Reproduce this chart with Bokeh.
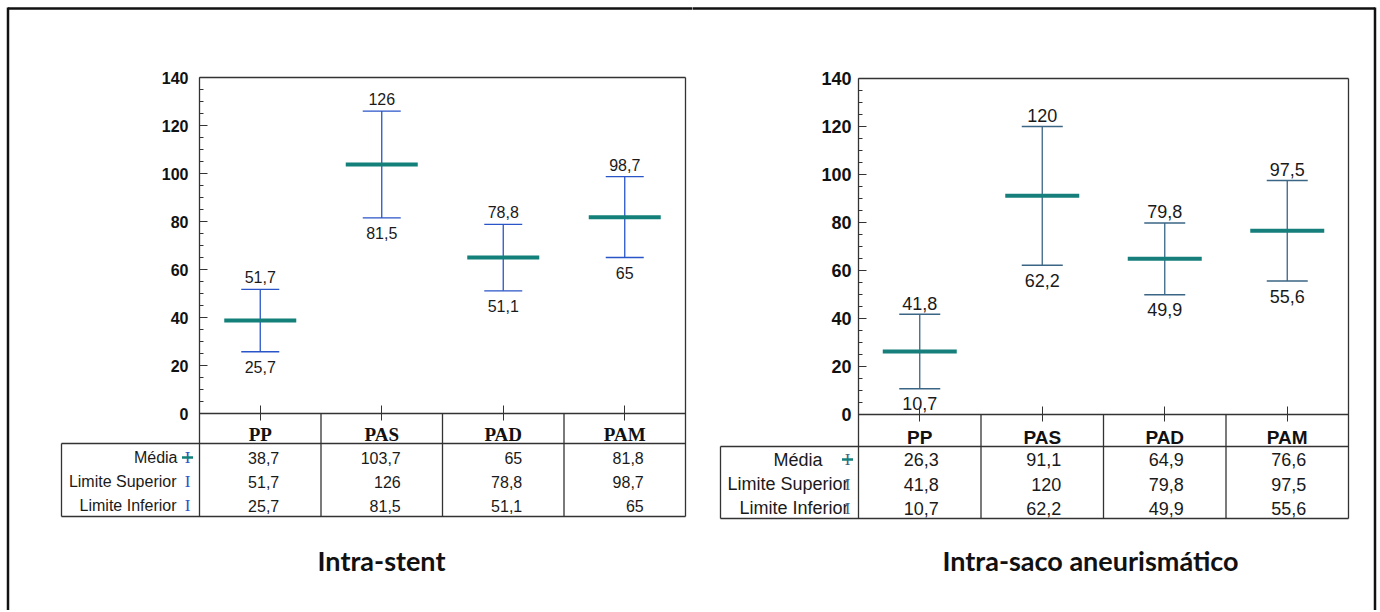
from bokeh.plotting import figure
from bokeh.layouts import row
from bokeh.models import Range1d, LinearAxis, FixedTicker, ColumnDataSource
from bokeh.core.properties import value
from bokeh.embed import file_html
from bokeh.resources import INLINE

# ---------------- data ----------------
categories = ["PP", "PAS", "PAD", "PAM"]
row_labels = ["Média", "Limite Superior", "Limite Inferior"]
y_ticks = [0, 20, 40, 60, 80, 100, 120, 140]

stent_mean = [38.7, 103.7, 65, 81.8]
stent_upper = [51.7, 126, 78.8, 98.7]
stent_lower = [25.7, 81.5, 51.1, 65]

saco_mean = [26.3, 91.1, 64.9, 76.6]
saco_upper = [41.8, 120, 79.8, 97.5]
saco_lower = [10.7, 62.2, 49.9, 55.6]

titles = ["Intra-stent", "Intra-saco aneurismático"]


def fmt(v):
    return str(int(v)) if float(v).is_integer() else f"{v:.1f}".replace(".", ",")


# ---------------- layout specs (page pixels) ----------------
PAGE_TOP, PAGE_BOTTOM = 0, 610
BORDER = dict(left=7.5, top=8, right=1374.5, color="#111111", width=2.5)

LEFT = dict(canvas_x=(0, 692), frame_x=(199, 685), zero=413, top=77,
            label_left=61, table_top=443, table_bottom=516,
            rows=(457, 481, 505), title=(381, 560),
            bar_color="#2a55c8", mean_color="#13807a",
            tick_font_size="16px", ystandoff=11,
            head_font="Liberation Serif", head_size="19px", head_standoff=3,
            val_size="16px", lab_size="16px", cap=38, mean_w=72,
            up_off=-12, low_off=15, val_off=19,
            lab_offsets=(-22, -23, -23), icon_off=-12, icon_color="#2a55c8",
            border_sides=("left", "top"))

RIGHT = dict(canvas_x=(692, 1378), frame_x=(858, 1348), zero=414, top=78,
             label_left=720, table_top=446, table_bottom=518,
             rows=(459, 483.5, 507.5), title=(1090, 560),
             bar_color="#3a6585", mean_color="#177f7b",
             tick_font_size="18px", ystandoff=7,
             head_font="Liberation Sans", head_size="19px", head_standoff=5,
             val_size="18px", lab_size="18px", cap=41, mean_w=74,
             up_off=-11, low_off=15, val_off=19,
             lab_offsets=(-36, -10, -10), icon_off=-11, icon_color="#3a6585",
             border_sides=("top", "right"))


def make_panel(spec, mean, upper, lower, title):
    cx0, cx1 = spec["canvas_x"]
    fx0, fx1 = spec["frame_x"]
    ux = (fx1 - fx0) / 4.0
    uy = (spec["zero"] - spec["top"]) / 140.0

    def X(px):
        return -0.5 + (px - fx0) / ux

    def Y(py):
        return (spec["zero"] - py) / uy

    p = figure(width=cx1 - cx0, height=PAGE_BOTTOM - PAGE_TOP,
               x_range=Range1d(X(cx0), X(cx1)), y_range=Range1d(Y(PAGE_BOTTOM), Y(PAGE_TOP)),
               x_axis_location=None, y_axis_location=None,
               toolbar_location=None, tools="", output_backend="svg",
               min_border=0, outline_line_color=None,
               background_fill_color="white", border_fill_color="white")
    p.xgrid.visible = False
    p.ygrid.visible = False

    line_col = "#333333"
    t_top, t_bot = Y(spec["table_top"]), Y(spec["table_bottom"])
    lx = X(spec["label_left"])

    # outer page border
    bx0, bx1 = [], []
    by0, by1 = [], []
    if "left" in spec["border_sides"]:
        bx0.append(X(BORDER["left"])); bx1.append(X(BORDER["left"]))
        by0.append(Y(BORDER["top"] - 1)); by1.append(Y(PAGE_BOTTOM + 5))
    if "right" in spec["border_sides"]:
        bx0.append(X(BORDER["right"])); bx1.append(X(BORDER["right"]))
        by0.append(Y(BORDER["top"] - 1)); by1.append(Y(PAGE_BOTTOM + 5))
    if "top" in spec["border_sides"]:
        left_end = BORDER["left"] if "left" in spec["border_sides"] else cx0 - 5
        right_end = BORDER["right"] if "right" in spec["border_sides"] else cx1 + 5
        bx0.append(X(left_end)); bx1.append(X(right_end))
        by0.append(Y(BORDER["top"])); by1.append(Y(BORDER["top"]))
    p.segment(x0=bx0, y0=by0, x1=bx1, y1=by1, line_color=BORDER["color"],
              line_width=BORDER["width"])

    # y axis (fixed on the chart's left edge)
    minor = [v for v in range(5, 140, 5) if v % 20]
    yax = LinearAxis(fixed_location=-0.5, bounds=(t_bot, 140),
                     ticker=FixedTicker(ticks=y_ticks, minor_ticks=minor),
                     major_tick_in=8, major_tick_out=0, minor_tick_in=4, minor_tick_out=0,
                     major_label_standoff=spec["ystandoff"],
                     axis_line_color=line_col, axis_line_width=1.3,
                     major_tick_line_color=line_col, minor_tick_line_color=line_col,
                     major_label_text_font="Liberation Sans",
                     major_label_text_font_style="bold",
                     major_label_text_font_size=spec["tick_font_size"],
                     major_label_text_color="#111111")
    p.add_layout(yax, "left")

    # x axis (category header)
    xax = LinearAxis(fixed_location=0, bounds=(-0.5, 3.5),
                     ticker=FixedTicker(ticks=[0, 1, 2, 3], minor_ticks=[]),
                     major_label_overrides={i: c for i, c in enumerate(categories)},
                     major_tick_in=8, major_tick_out=7, minor_tick_in=0, minor_tick_out=0,
                     major_label_standoff=spec["head_standoff"],
                     axis_line_color=line_col, axis_line_width=1.3,
                     major_tick_line_color=line_col,
                     major_label_text_font=spec["head_font"],
                     major_label_text_font_style="bold",
                     major_label_text_font_size=spec["head_size"],
                     major_label_text_color="#111111")
    p.add_layout(xax, "below")

    # frame + table lines
    p.segment(x0=[-0.5, 3.5, lx, lx, lx, 0.5, 1.5, 2.5],
              y0=[140, 140, t_top, t_bot, t_top, 0, 0, 0],
              x1=[3.5, 3.5, 3.5, 3.5, lx, 0.5, 1.5, 2.5],
              y1=[140, t_bot, t_top, t_bot, t_bot, t_bot, t_bot, t_bot],
              line_color=line_col, line_width=1.3)

    xs = list(range(len(categories)))
    src = ColumnDataSource(dict(x=xs, mean=mean, upper=upper, lower=lower,
                                ulab=[fmt(v) for v in upper], llab=[fmt(v) for v in lower]))

    p.segment(x0="x", y0="lower", x1="x", y1="upper", source=src,
              line_color=spec["bar_color"], line_width=1.3)
    p.scatter(x="x", y="upper", marker="dash", size=spec["cap"], source=src,
              line_color=spec["bar_color"], line_width=1.4)
    p.scatter(x="x", y="lower", marker="dash", size=spec["cap"], source=src,
              line_color=spec["bar_color"], line_width=1.4)
    p.scatter(x="x", y="mean", marker="dash", size=spec["mean_w"], source=src,
              line_color=spec["mean_color"], line_width=4)

    txt = dict(text_font=value("Liberation Sans"), text_color="#1a1a1a",
               text_align="center", text_baseline="middle")
    p.text(x="x", y="upper", text="ulab", source=src, y_offset=spec["up_off"],
           text_font_size=spec["val_size"], **txt)
    p.text(x="x", y="lower", text="llab", source=src, y_offset=spec["low_off"],
           text_font_size=spec["val_size"], **txt)

    # table values
    row_ys = [Y(v) for v in spec["rows"]]
    tx, ty, tt = [], [], []
    for r, arr in enumerate((mean, upper, lower)):
        for i, v in enumerate(arr):
            tx.append(i)
            ty.append(row_ys[r])
            tt.append(fmt(v))
    p.text(x=tx, y=ty, text=tt, x_offset=spec["val_off"],
           text_font=value("Liberation Sans"), text_font_size=spec["val_size"],
           text_color="#1a1a1a", text_align="right", text_baseline="middle")

    # row labels + legend icons
    p.text(x=[-0.5] * 3, y=row_ys, text=row_labels, x_offset=list(spec["lab_offsets"]),
           text_font=value("Liberation Sans"), text_font_size=spec["lab_size"],
           text_color="#1a1a1a", text_align="right", text_baseline="middle")
    p.text(x=[-0.5] * 3, y=row_ys, text=["I"] * 3, x_offset=spec["icon_off"],
           text_font=value("Liberation Serif"), text_font_size="17px",
           text_color=spec["icon_color"], text_align="center", text_baseline="middle")
    icon_x = -0.5 + spec["icon_off"] / ux
    p.scatter(x=[icon_x], y=[row_ys[0]], marker="dash", size=11,
              line_color=spec["mean_color"], line_width=2.5)

    # title under the table
    p.text(x=[X(spec["title"][0])], y=[Y(spec["title"][1])], text=[title],
           text_font=value("Lato"), text_font_style="bold", text_font_size="27px",
           text_color="#111111", text_align="center", text_baseline="middle")
    return p


pL = make_panel(LEFT, stent_mean, stent_upper, stent_lower, titles[0])
pR = make_panel(RIGHT, saco_mean, saco_upper, saco_lower, titles[1])

layout = row(pL, pR)

open("out.html", "w").write(file_html(layout, INLINE))
